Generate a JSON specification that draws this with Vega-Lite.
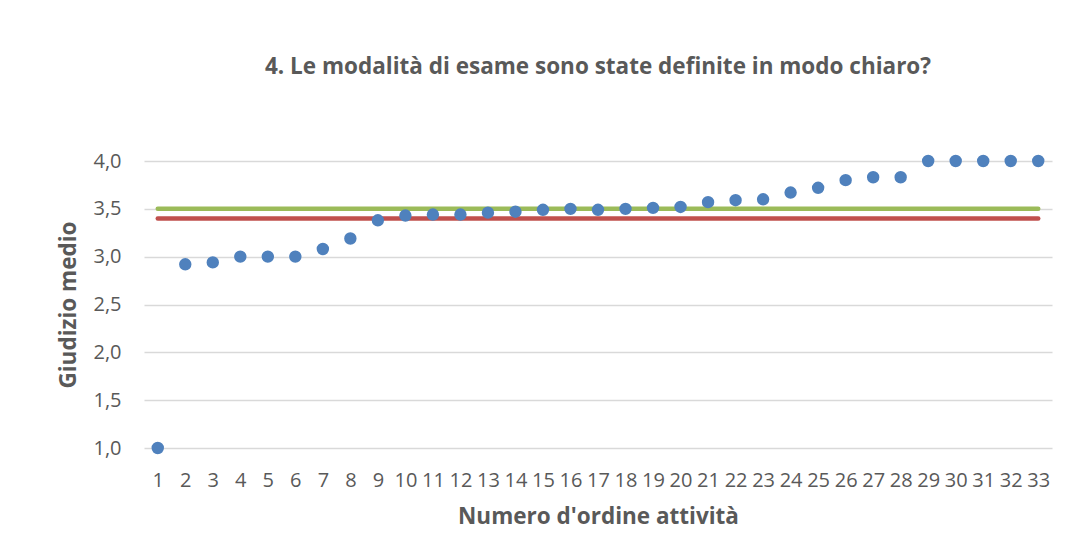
{
  "$schema": "https://vega.github.io/schema/vega-lite/v6.json",
  "width": 908,
  "height": 287,
  "autosize": {"type": "none"},
  "padding": {"left": 144, "top": 161, "right": 22, "bottom": 95},
  "background": "#FFFFFF",
  "title": {
    "text": "4. Le modalità di esame sono state definite in modo chiaro?",
    "anchor": "middle",
    "font": "Open Sans",
    "fontSize": 22.5,
    "fontWeight": "bold",
    "color": "#595959",
    "offset": 73
  },
  "data": {
    "values": [
      {"n": 1, "giudizio": 1.00, "verde": 3.5, "rosso": 3.4},
      {"n": 2, "giudizio": 2.92, "verde": 3.5, "rosso": 3.4},
      {"n": 3, "giudizio": 2.94, "verde": 3.5, "rosso": 3.4},
      {"n": 4, "giudizio": 3.00, "verde": 3.5, "rosso": 3.4},
      {"n": 5, "giudizio": 3.00, "verde": 3.5, "rosso": 3.4},
      {"n": 6, "giudizio": 3.00, "verde": 3.5, "rosso": 3.4},
      {"n": 7, "giudizio": 3.08, "verde": 3.5, "rosso": 3.4},
      {"n": 8, "giudizio": 3.19, "verde": 3.5, "rosso": 3.4},
      {"n": 9, "giudizio": 3.38, "verde": 3.5, "rosso": 3.4},
      {"n": 10, "giudizio": 3.43, "verde": 3.5, "rosso": 3.4},
      {"n": 11, "giudizio": 3.44, "verde": 3.5, "rosso": 3.4},
      {"n": 12, "giudizio": 3.44, "verde": 3.5, "rosso": 3.4},
      {"n": 13, "giudizio": 3.46, "verde": 3.5, "rosso": 3.4},
      {"n": 14, "giudizio": 3.47, "verde": 3.5, "rosso": 3.4},
      {"n": 15, "giudizio": 3.49, "verde": 3.5, "rosso": 3.4},
      {"n": 16, "giudizio": 3.50, "verde": 3.5, "rosso": 3.4},
      {"n": 17, "giudizio": 3.49, "verde": 3.5, "rosso": 3.4},
      {"n": 18, "giudizio": 3.50, "verde": 3.5, "rosso": 3.4},
      {"n": 19, "giudizio": 3.51, "verde": 3.5, "rosso": 3.4},
      {"n": 20, "giudizio": 3.52, "verde": 3.5, "rosso": 3.4},
      {"n": 21, "giudizio": 3.57, "verde": 3.5, "rosso": 3.4},
      {"n": 22, "giudizio": 3.59, "verde": 3.5, "rosso": 3.4},
      {"n": 23, "giudizio": 3.60, "verde": 3.5, "rosso": 3.4},
      {"n": 24, "giudizio": 3.67, "verde": 3.5, "rosso": 3.4},
      {"n": 25, "giudizio": 3.72, "verde": 3.5, "rosso": 3.4},
      {"n": 26, "giudizio": 3.80, "verde": 3.5, "rosso": 3.4},
      {"n": 27, "giudizio": 3.83, "verde": 3.5, "rosso": 3.4},
      {"n": 28, "giudizio": 3.83, "verde": 3.5, "rosso": 3.4},
      {"n": 29, "giudizio": 4.00, "verde": 3.5, "rosso": 3.4},
      {"n": 30, "giudizio": 4.00, "verde": 3.5, "rosso": 3.4},
      {"n": 31, "giudizio": 4.00, "verde": 3.5, "rosso": 3.4},
      {"n": 32, "giudizio": 4.00, "verde": 3.5, "rosso": 3.4},
      {"n": 33, "giudizio": 4.00, "verde": 3.5, "rosso": 3.4}
    ]
  },
  "encoding": {
    "x": {
      "field": "n",
      "type": "ordinal",
      "title": "Numero d'ordine attività",
      "axis": {
        "labelAngle": 0,
        "ticks": false,
        "tickSize": 0,
        "domain": false,
        "grid": false,
        "labelPadding": 22,
        "titlePadding": 15,
        "labelOverlap": false
      }
    }
  },
  "layer": [
    {
      "mark": {"type": "line", "color": "#9BBB59", "strokeWidth": 4.5, "strokeCap": "round"},
      "encoding": {
        "y": {
          "field": "verde",
          "type": "quantitative",
          "title": "Giudizio medio",
          "scale": {"domain": [1, 4], "nice": false, "zero": false},
          "axis": {
            "values": [1, 1.5, 2, 2.5, 3, 3.5, 4],
            "labelExpr": "replace(format(datum.value, '.1f'), '.', ',')",
            "ticks": false,
            "tickSize": 0,
            "domain": false,
            "grid": true,
            "gridColor": "#D9D9D9",
            "gridWidth": 1.5,
            "labelPadding": 23,
            "titlePadding": 12
          }
        }
      }
    },
    {
      "mark": {"type": "line", "color": "#C0504D", "strokeWidth": 4.5, "strokeCap": "round"},
      "encoding": {
        "y": {"field": "rosso", "type": "quantitative", "title": "Giudizio medio"}
      }
    },
    {
      "mark": {"type": "point", "filled": true, "opacity": 1, "color": "#4F81BD", "size": 154},
      "encoding": {
        "y": {"field": "giudizio", "type": "quantitative", "title": "Giudizio medio"}
      }
    }
  ],
  "config": {
    "view": {"stroke": null},
    "axis": {
      "labelFont": "Open Sans",
      "labelFontSize": 20,
      "labelColor": "#595959",
      "titleFont": "Open Sans",
      "titleFontSize": 22.5,
      "titleFontWeight": "bold",
      "titleColor": "#595959"
    }
  }
}
